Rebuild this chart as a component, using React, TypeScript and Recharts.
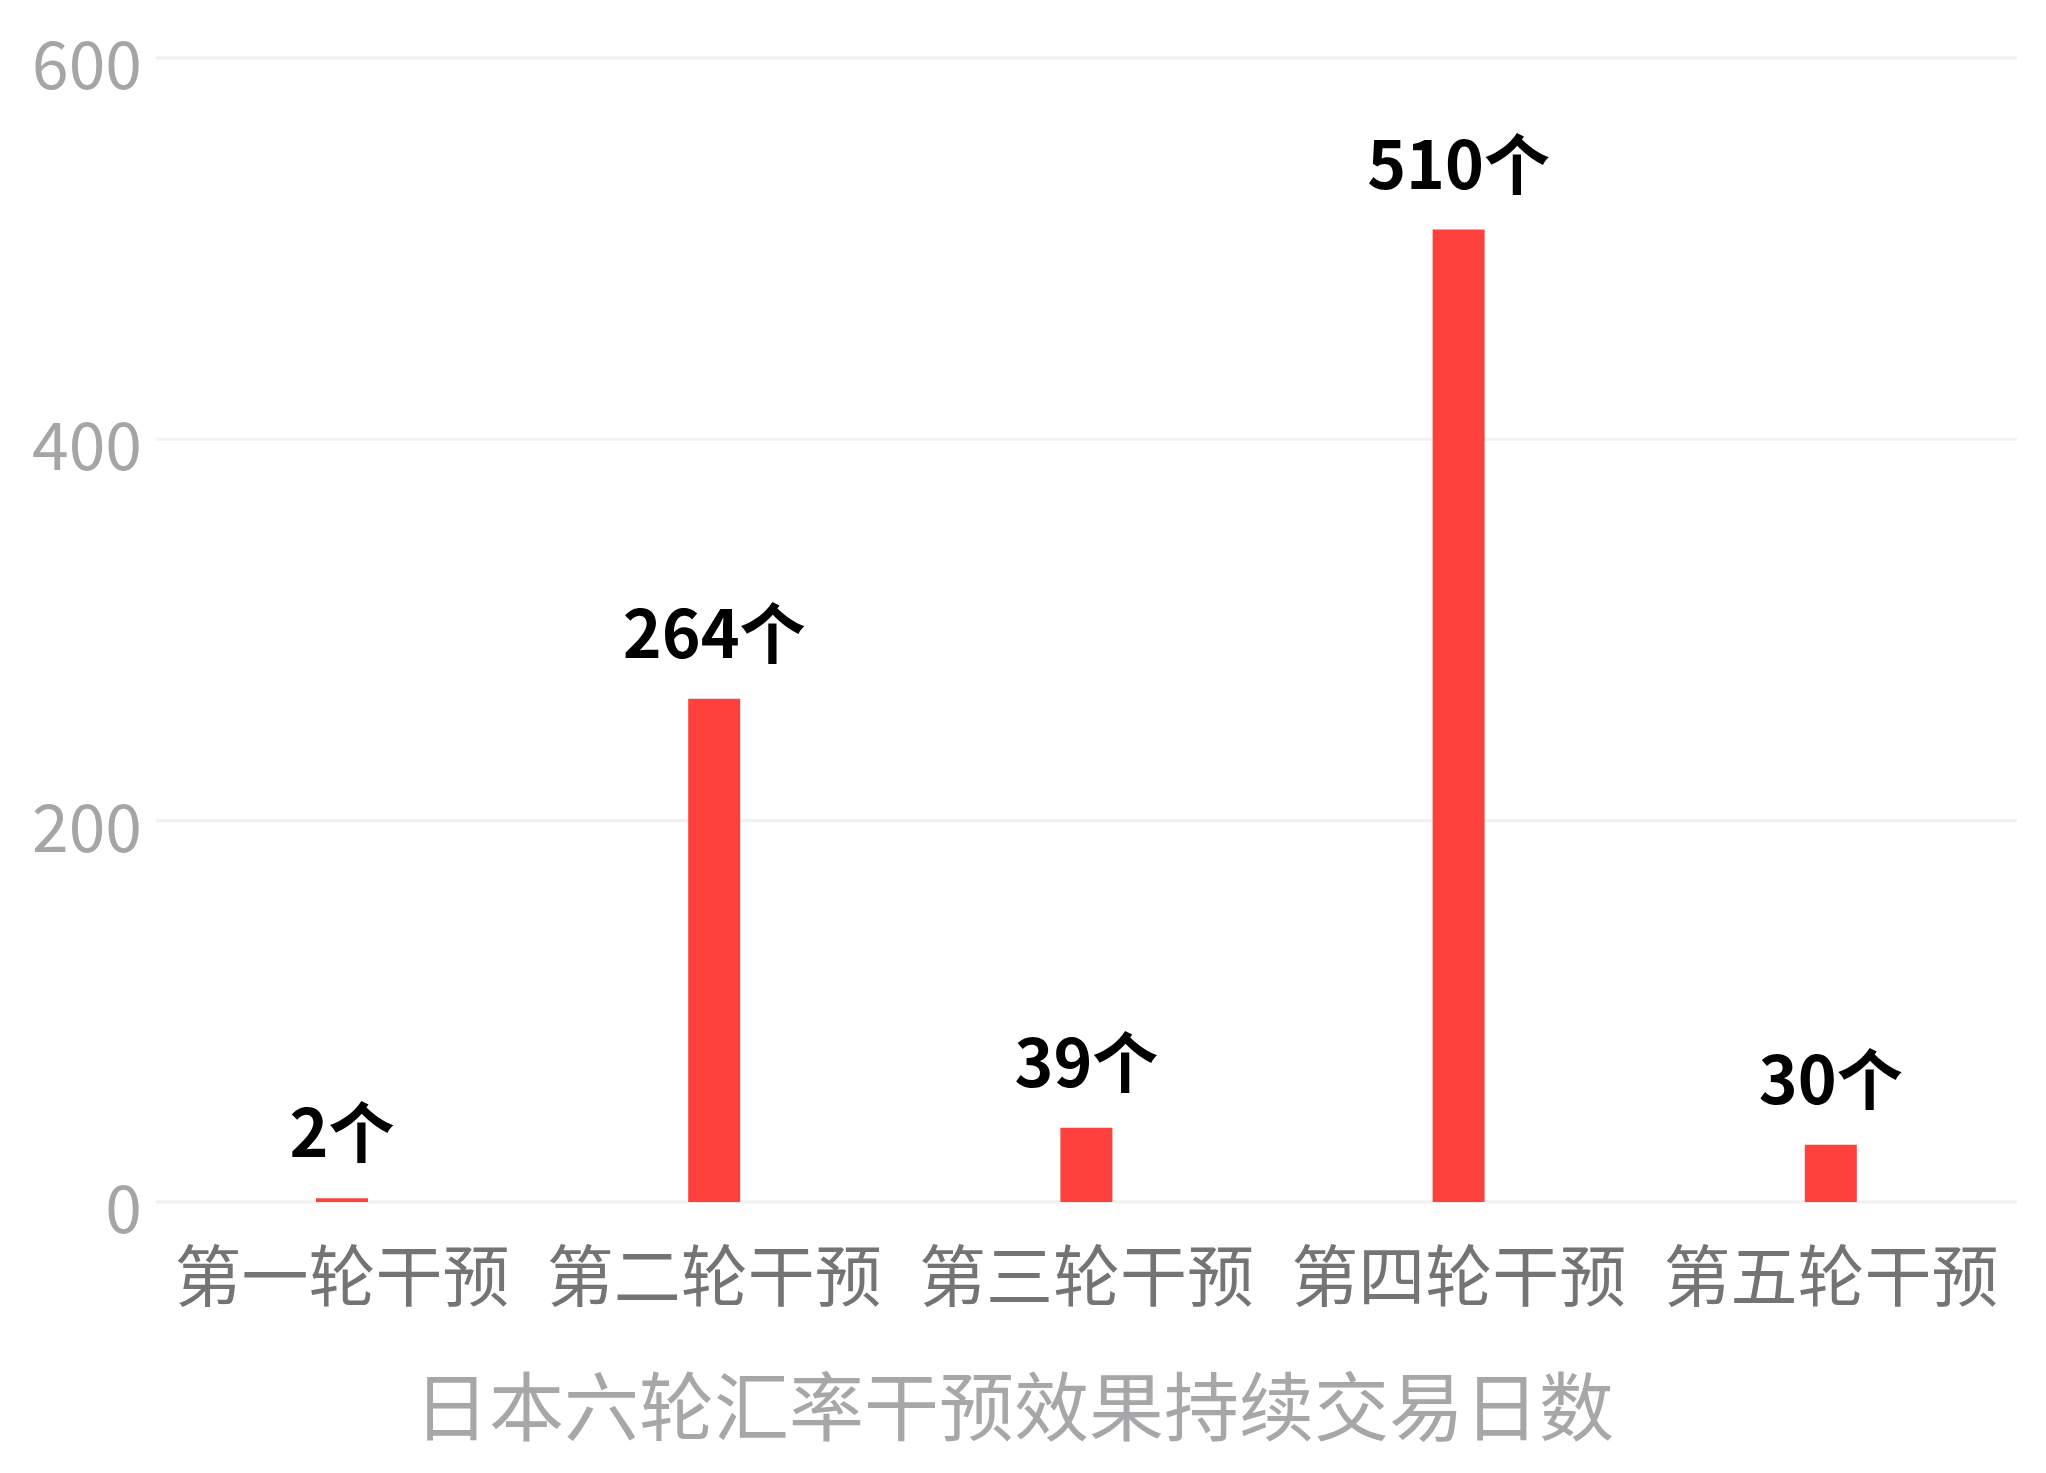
import React from 'react';
import { BarChart, Bar, XAxis, YAxis, CartesianGrid, LabelList } from 'recharts';

const categories = ['第一轮干预', '第二轮干预', '第三轮干预', '第四轮干预', '第五轮干预'];
const values = [2, 264, 39, 510, 30];
const yTicks = [0, 200, 400, 600];
const unit = '个';
const axisTitle = '日本六轮汇率干预效果持续交易日数';

const data = categories.map((name, i) => ({ name, value: values[i] }));

const FONT = '"Noto Sans CJK SC", "Noto Sans", sans-serif';

const YTick = (props: any) => {
  const { x, y, payload } = props;
  return (
    <text x={x} y={y + 31} textAnchor="end" fontFamily={FONT} fontSize={66} fill="#A5A5A8">
      {payload.value}
    </text>
  );
};

const XTick = (props: any) => {
  const { x, y, payload } = props;
  return (
    <text x={x} y={y + 99} textAnchor="middle" fontFamily={FONT} fontSize={67} fill="#747474">
      {payload.value}
    </text>
  );
};

const BarLabel = (props: any) => {
  const { x, y, width, value } = props;
  return (
    <text
      x={x + width / 2}
      y={y - 41}
      textAnchor="middle"
      fontFamily={FONT}
      fontSize={66}
      fontWeight={700}
      fill="#000000"
    >
      {`${value}${unit}`}
    </text>
  );
};

const TitleLabel = (props: any) => {
  const { viewBox } = props;
  return (
    <text
      x={1014}
      y={viewBox.y + 233}
      textAnchor="middle"
      fontFamily={FONT}
      fontSize={75}
      fill="#A7A7AA"
    >
      {axisTitle}
    </text>
  );
};

export default function App() {
  return (
    <div style={{ position: 'absolute', left: 0, top: 0, width: 2046, height: 1473, background: '#fff' }}>
      <BarChart
        width={2046}
        height={1473}
        data={data}
        margin={{ top: 58, right: 29, left: 0, bottom: 0 }}
      >
        <CartesianGrid vertical={false} stroke="#F1F1F1" strokeWidth={3} />
        <XAxis
          dataKey="name"
          axisLine={false}
          tickLine={false}
          tickSize={0}
          tickMargin={0}
          height={271}
          interval={0}
          tick={<XTick />}
          label={<TitleLabel />}
        />
        <YAxis
          width={156}
          domain={[0, 600]}
          ticks={yTicks}
          axisLine={false}
          tickLine={false}
          tickSize={0}
          tickMargin={14}
          tick={<YTick />}
        />
        <Bar dataKey="value" fill="#FF413D" barSize={52} isAnimationActive={false}>
          <LabelList dataKey="value" content={<BarLabel />} />
        </Bar>
      </BarChart>
    </div>
  );
}
